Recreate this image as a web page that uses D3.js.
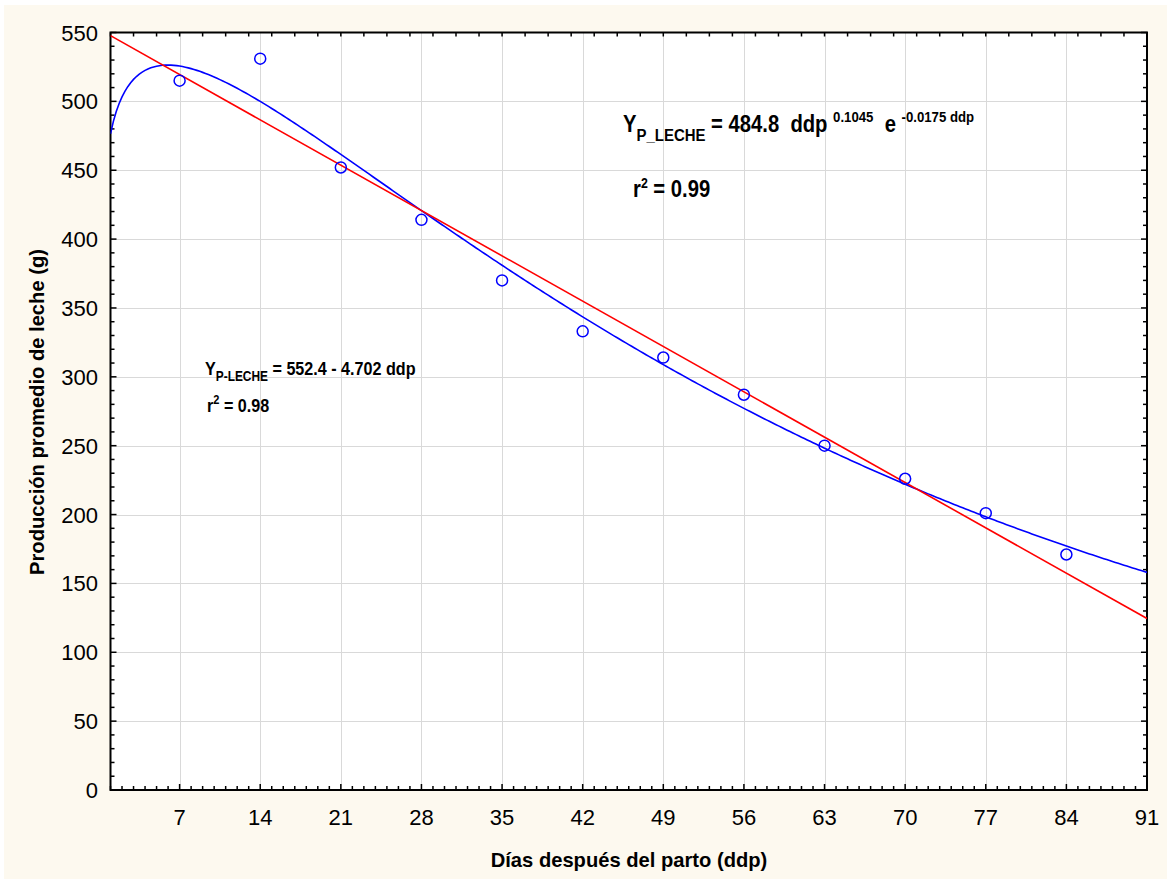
<!DOCTYPE html>
<html>
<head>
<meta charset="utf-8">
<script src="https://cdn.jsdelivr.net/npm/d3@7"></script>
<style>
  html, body { margin: 0; padding: 0; background: #ffffff; }
  svg { display: block; }
  .eq { font-family: "Liberation Sans", Arial, sans-serif; font-weight: bold; fill: #000; white-space: pre; }
</style>
</head>
<body>
<svg id="chart" width="1167" height="879"></svg>
<script>
// observed data: days after birth vs mean milk production (g)
const days = [7, 14, 21, 28, 35, 42, 49, 56, 63, 70, 77, 84];
const milk = [515, 531, 452, 414, 370, 333, 314, 287, 250, 226, 201, 171];

// fitted models printed on the chart
const linearCoef = [552.4, -4.702];          // a + b*ddp
const woodCoef = [484.8, 0.1045, 0.0175];    // a * ddp^b * e^(-c*ddp)

const xTicks = [7, 14, 21, 28, 35, 42, 49, 56, 63, 70, 77, 84, 91];
const yTicks = [0, 50, 100, 150, 200, 250, 300, 350, 400, 450, 500, 550];

const W = 1167, H = 879;
const plot = { left: 110.5, top: 32.5, right: 1147, bottom: 790 };

const svg = d3.select("#chart");

// page background
svg.append("rect").attr("x", 4).attr("y", 5).attr("width", W - 4).attr("height", H - 5)
  .attr("fill", "#fdf9ef");

const x = d3.scaleLinear().domain([1, 91]).range([plot.left, plot.right]);
const y = d3.scaleLinear().domain([0, 550]).range([plot.bottom, plot.top]);

svg.append("rect")
  .attr("x", plot.left).attr("y", plot.top)
  .attr("width", plot.right - plot.left).attr("height", plot.bottom - plot.top)
  .attr("fill", "#ffffff");

// grid
const grid = svg.append("g").attr("stroke", "#d9d9d9").attr("stroke-width", 1);
grid.selectAll("line.gx").data(xTicks.filter(d => d < 91)).enter().append("line")
  .attr("x1", d => Math.round(x(d)) + 0.5).attr("x2", d => Math.round(x(d)) + 0.5)
  .attr("y1", plot.top).attr("y2", plot.bottom);
grid.selectAll("line.gy").data(yTicks.filter(d => d > 0 && d < 550)).enter().append("line")
  .attr("y1", d => Math.round(y(d)) + 0.5).attr("y2", d => Math.round(y(d)) + 0.5)
  .attr("x1", plot.left).attr("x2", plot.right);

// inner ticks
const ticks = svg.append("g").attr("stroke", "#000").attr("stroke-width", 1.5);
const dayTicks = d3.range(1, 92);
ticks.selectAll("line.bt").data(dayTicks).enter().append("line")
  .attr("x1", d => x(d)).attr("x2", d => x(d))
  .attr("y1", plot.bottom).attr("y2", d => plot.bottom - (d % 7 === 0 ? 6 : 4));
ticks.selectAll("line.tt").data(dayTicks.filter(d => d % 2 === 1)).enter().append("line")
  .attr("x1", d => x(d)).attr("x2", d => x(d))
  .attr("y1", plot.top).attr("y2", plot.top + 4);
const valTicks = d3.range(0, 551, 10);
ticks.selectAll("line.lt").data(valTicks).enter().append("line")
  .attr("y1", d => y(d)).attr("y2", d => y(d))
  .attr("x1", plot.left).attr("x2", d => plot.left + (d % 50 === 0 ? 6 : 4));
ticks.selectAll("line.rt").data(valTicks).enter().append("line")
  .attr("y1", d => y(d)).attr("y2", d => y(d))
  .attr("x1", plot.right).attr("x2", d => plot.right - (d % 50 === 0 ? 6 : 4));

// frame
svg.append("rect")
  .attr("x", plot.left).attr("y", plot.top)
  .attr("width", plot.right - plot.left).attr("height", plot.bottom - plot.top)
  .attr("fill", "none").attr("stroke", "#000").attr("stroke-width", 2);

// tick labels
const lab = svg.append("g").attr("font-family", "'Liberation Sans', Arial, sans-serif")
  .attr("font-size", 22).attr("fill", "#000");
lab.selectAll("text.xl").data(xTicks).enter().append("text")
  .attr("x", d => x(d)).attr("y", 825).attr("text-anchor", "middle").text(d => d);
lab.selectAll("text.yl").data(yTicks).enter().append("text")
  .attr("x", 98).attr("y", d => y(d) + 8).attr("text-anchor", "end").text(d => d);

// axis titles
svg.append("text")
  .attr("transform", "translate(629,867) scale(0.96,1)").attr("text-anchor", "middle")
  .attr("font-family", "'Liberation Sans', Arial, sans-serif").attr("font-weight", "bold")
  .attr("font-size", 21).text("Días después del parto (ddp)");
svg.append("text")
  .attr("transform", "translate(44,412) rotate(-90) scale(0.96,1)").attr("text-anchor", "middle")
  .attr("font-family", "'Liberation Sans', Arial, sans-serif").attr("font-weight", "bold")
  .attr("font-size", 21).text("Producción promedio de leche (g)");

// fitted curves
const fitDays = d3.range(1, 91.01, 0.25);
const wood = d => woodCoef[0] * Math.pow(d, woodCoef[1]) * Math.exp(-woodCoef[2] * d);
const lin = d => linearCoef[0] + linearCoef[1] * d;

svg.append("clipPath").attr("id", "plotclip").append("rect")
  .attr("x", plot.left).attr("y", plot.top)
  .attr("width", plot.right - plot.left).attr("height", plot.bottom - plot.top);

svg.append("path").datum(fitDays)
  .attr("clip-path", "url(#plotclip)")
  .attr("d", d3.line().x(d => x(d)).y(d => y(wood(d))))
  .attr("fill", "none").attr("stroke", "#0000ff").attr("stroke-width", 1.6);
svg.append("path").datum([1, 91])
  .attr("clip-path", "url(#plotclip)")
  .attr("d", d3.line().x(d => x(d)).y(d => y(lin(d))))
  .attr("fill", "none").attr("stroke", "#ff0000").attr("stroke-width", 1.6);

// observed points
svg.append("g").selectAll("circle").data(days).enter().append("circle")
  .attr("cx", d => x(d)).attr("cy", (d, i) => y(milk[i])).attr("r", 5.5)
  .attr("fill", "none").attr("stroke", "#0000ff").attr("stroke-width", 1.5);

// equations (condensed bold)
const eq1 = svg.append("text").attr("class", "eq")
  .attr("transform", "translate(623,132) scale(0.88,1)").attr("font-size", 23);
eq1.append("tspan").text("Y");
eq1.append("tspan").attr("dy", 9).attr("font-size", 17).text("P_LECHE");
eq1.append("tspan").attr("dy", -9).text(" = 484.8  ddp ");
eq1.append("tspan").attr("dy", -10).attr("font-size", 15).text("0.1045");
eq1.append("tspan").attr("dy", 10).text("  e ");
eq1.append("tspan").attr("dy", -10).attr("font-size", 15).text("-0.0175 ddp");

const r1 = svg.append("text").attr("class", "eq")
  .attr("transform", "translate(633,197) scale(0.88,1)").attr("font-size", 23);
r1.append("tspan").text("r");
r1.append("tspan").attr("dy", -9).attr("font-size", 14).text("2");
r1.append("tspan").attr("dy", 9).text(" = 0.99");

const eq2 = svg.append("text").attr("class", "eq")
  .attr("transform", "translate(205,375) scale(0.85,1)").attr("font-size", 19);
eq2.append("tspan").text("Y");
eq2.append("tspan").attr("dy", 6).attr("font-size", 14).text("P-LECHE");
eq2.append("tspan").attr("dy", -6).text(" = 552.4 - 4.702 ddp");

const r2 = svg.append("text").attr("class", "eq")
  .attr("transform", "translate(207,412) scale(0.85,1)").attr("font-size", 19);
r2.append("tspan").text("r");
r2.append("tspan").attr("dy", -8).attr("font-size", 13).text("2");
r2.append("tspan").attr("dy", 8).text(" = 0.98");
</script>
</body>
</html>
